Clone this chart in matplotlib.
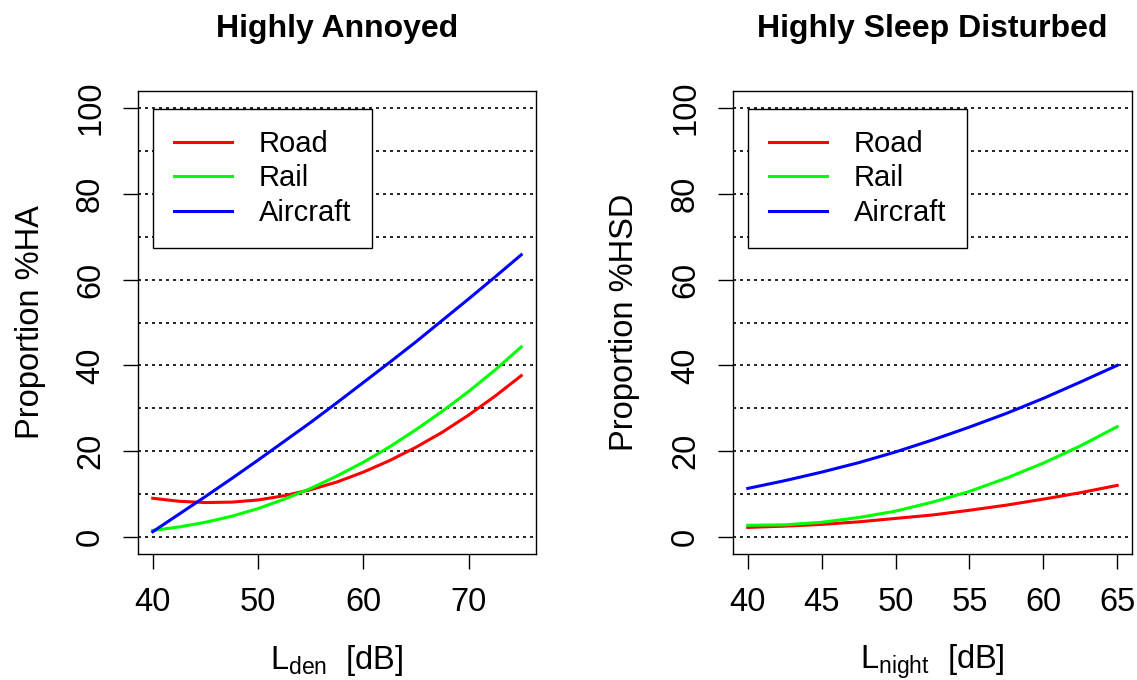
import matplotlib
matplotlib.use("Agg")
import matplotlib.pyplot as plt

plt.rcParams['font.family'] = ['Liberation Sans', 'DejaVu Sans']
plt.rcParams['mathtext.default'] = 'regular'

# ---- data ----
lden = [40, 42.5, 45, 47.5, 50, 52.5, 55, 57.5, 60, 62.5, 65, 67.5, 70, 72.5, 75]
ha_road = [9.0, 8.3, 8.0, 8.1, 8.6, 9.6, 11.0, 12.8, 15.1, 17.8, 20.9, 24.4, 28.4, 32.8, 37.6]
ha_rail = [1.5, 2.3, 3.4, 4.8, 6.6, 8.8, 11.3, 14.2, 17.4, 21.0, 25.0, 29.3, 33.9, 38.9, 44.3]
ha_air = [1.2, 5.3, 9.4, 13.6, 17.9, 22.3, 26.7, 31.3, 36.0, 40.7, 45.5, 50.5, 55.5, 60.6, 65.8]

lnight = [40, 42.5, 45, 47.5, 50, 52.5, 55, 57.5, 60, 62.5, 65]
hsd_road = [2.2, 2.5, 2.9, 3.5, 4.3, 5.1, 6.2, 7.4, 8.8, 10.3, 12.0]
hsd_rail = [2.7, 2.8, 3.4, 4.5, 6.0, 8.1, 10.6, 13.7, 17.2, 21.2, 25.7]
hsd_air = [11.3, 13.1, 15.1, 17.3, 19.8, 22.6, 25.6, 28.8, 32.3, 36.1, 40.0]

series_names = ['Road', 'Rail', 'Aircraft']
series_colors = ['#FF0000', '#00FF00', '#0000FF']

titles = ['Highly Annoyed', 'Highly Sleep Disturbed']
ylabels = ['Proportion %HA', 'Proportion %HSD']
xlabels = ['L$_{den}$  [dB]', 'L$_{night}$  [dB]']
xticks_list = [[40, 50, 60, 70], [40, 45, 50, 55, 60, 65]]
yticks = [0, 20, 40, 60, 80, 100]
gridlevels = [0, 10, 20, 30, 40, 50, 60, 70, 80, 90, 100]

W, H = 1137, 680
fig = plt.figure(figsize=(W / 100, H / 100), dpi=100)

boxes = [(138, 91, 536, 554), (733, 91, 1132, 554)]
panels = [
    (lden, [ha_road, ha_rail, ha_air]),
    (lnight, [hsd_road, hsd_rail, hsd_air]),
]

for i, ((x0, y0, x1, y1), (xs, ys)) in enumerate(zip(boxes, panels)):
    ax = fig.add_axes([x0 / W, 1 - y1 / H, (x1 - x0) / W, (y1 - y0) / H])
    xmin, xmax = min(xs), max(xs)
    dx = (xmax - xmin) * 0.04
    ax.set_xlim(xmin - dx, xmax + dx)
    ax.set_ylim(-4, 104)
    for g in gridlevels:
        ax.axhline(g, color='black', lw=1.2, linestyle=(0, (1.8, 2.4)), zorder=1)
    for name, col, y in zip(series_names, series_colors, ys):
        ax.plot(xs, y, color=col, lw=2.2, label=name, zorder=3)
    ax.set_xticks(xticks_list[i])
    ax.set_yticks(yticks)
    ax.tick_params(axis='both', direction='out', length=11, width=1.0,
                   labelsize=23.5, color='black')
    ax.tick_params(axis='x', pad=13)
    ax.tick_params(axis='y', pad=12)
    for lab in ax.get_yticklabels():
        lab.set_rotation(90)
        lab.set_va('center')
        lab.set_ha('right')
    for sp in ax.spines.values():
        sp.set_linewidth(1.0)
        sp.set_color('black')
    ax.set_xlabel(xlabels[i], fontsize=23.5)
    ax.xaxis.set_label_coords(0.5, -0.192)
    ax.set_ylabel(ylabels[i], fontsize=23.5)
    ax.yaxis.set_label_coords(-0.232, 0.5)
    ax.text(0.5, 1.1166, titles[i], transform=ax.transAxes, ha='center',
            va='baseline', fontsize=23, fontweight='bold')
    leg = ax.legend(loc='upper left', bbox_to_anchor=(0.0377, 0.961),
                    borderaxespad=0, fontsize=21, handlelength=2.0,
                    handletextpad=0.9, borderpad=0.72, labelspacing=0.22,
                    fancybox=False, framealpha=1, edgecolor='black')
    leg.get_frame().set_linewidth(1.0)
    leg.set_zorder(5)

fig.savefig('out.png', dpi=100, facecolor='white')
